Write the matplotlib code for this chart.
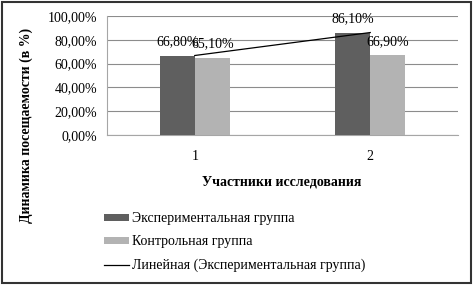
import matplotlib
matplotlib.use("Agg")
import matplotlib.pyplot as plt
from matplotlib.patches import Rectangle
from matplotlib.ticker import FuncFormatter
import numpy as np

# Данные
categories = ['1', '2']
exp_values = [66.8, 86.1]     # Экспериментальная группа
ctrl_values = [65.1, 66.9]    # Контрольная группа
y_ticks = [0, 20, 40, 60, 80, 100]

plt.rcParams['font.family'] = ['Liberation Serif', 'DejaVu Serif']

fig = plt.figure(figsize=(4.74, 2.85), dpi=100)
ax = fig.add_axes([107 / 474, 1 - 135 / 285, 351 / 474, 119 / 285])

x = np.arange(1, len(categories) + 1)
w = 0.2
dark = '#5f5f5f'
light = '#b3b3b3'

b1 = ax.bar(x - w / 2, exp_values, width=w, color=dark, zorder=3)
b2 = ax.bar(x + w / 2, ctrl_values, width=w, color=light, zorder=3)

# Линейный тренд (по двум точкам)
coef = np.polyfit(x, exp_values, 1)
trend, = ax.plot(x, np.polyval(coef, x), color='black', lw=0.9, zorder=4)

fmt = lambda v: f'{v:.2f}%'.replace('.', ',')
for bars, vals in [(b1, exp_values), (b2, ctrl_values)]:
    for bar, v in zip(bars, vals):
        ax.annotate(fmt(v), (bar.get_x() + bar.get_width() / 2, v),
                    xytext=(0, 10), textcoords='offset points',
                    ha='center', va='center', fontsize=10, zorder=5)

ax.set_xlim(0.5, 2.5)
ax.set_ylim(0, 100)
ax.set_yticks(y_ticks)
ax.yaxis.set_major_formatter(FuncFormatter(lambda v, p: fmt(v)))
ax.set_xticks(x)
ax.set_xticklabels(categories)
ax.tick_params(axis='y', length=0, pad=7, labelsize=10)
ax.tick_params(axis='x', length=0, pad=11, labelsize=10)
ax.grid(axis='y', color='#8c8c8c', lw=0.8, zorder=0)
for s in ['top', 'right']:
    ax.spines[s].set_visible(False)
for s in ['left', 'bottom']:
    ax.spines[s].set_color('#a6a6a6')
    ax.spines[s].set_linewidth(0.8)

fig.text(282 / 474, 1 - 182 / 285, 'Участники исследования',
         ha='center', va='center', fontsize=10, fontweight='bold')
fig.text(26 / 474, 1 - 125 / 285, 'Динамика посещаемости (в %)',
         ha='center', va='center', rotation=90, fontsize=10, fontweight='bold')

fig.legend([b1, b2, trend],
           ['Экспериментальная группа', 'Контрольная группа',
            'Линейная (Экспериментальная группа)'],
           loc='upper left', bbox_to_anchor=(104 / 474, 1 - 212 / 285),
           frameon=False, fontsize=10, handlelength=1.8, handleheight=0.4,
           handletextpad=0.2, labelspacing=0.75, borderpad=0, borderaxespad=0)

# Рамка вокруг рисунка
fig.patches.append(Rectangle((0.004, 0.006), 0.99, 0.988, transform=fig.transFigure,
                             fill=False, edgecolor='#333333', lw=1.5))

fig.savefig('out.png', dpi=100)
